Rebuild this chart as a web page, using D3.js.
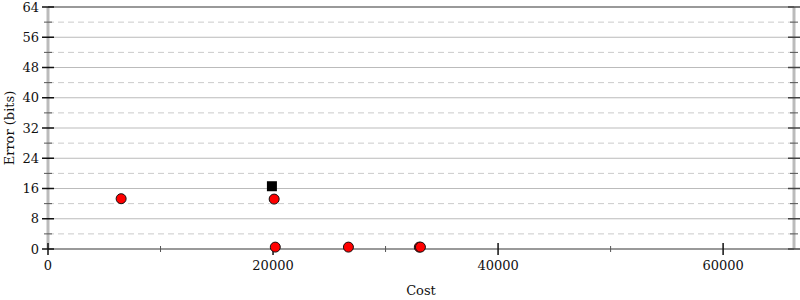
<!DOCTYPE html>
<html>
<head>
<meta charset="utf-8">
<script src="https://d3js.org/d3.v7.min.js"></script>
<style>
  body { margin: 0; background: #fff; }
  text { font-family: "DejaVu Serif", serif; font-size: 13px; fill: #111; }
</style>
</head>
<body>
<div id="chart"></div>
<script>
// Data
const circleCost = [6500, 20100, 20200, 26700, 33000, 33100]
const circleError = [13.3, 13.2, 0.5, 0.5, 0.5, 0.5]
const squareCost = [19900]
const squareError = [16.6]
const xTicks = [0, 20000, 40000, 60000]
const xMinor = [10000, 30000, 50000]
const yTicks = [0, 8, 16, 24, 32, 40, 48, 56, 64]
const yMinor = [4, 12, 20, 28, 36, 44, 52, 60]

const width = 800, height = 300
const margin = { left: 48, right: 6, top: 7, bottom: 51 }
const innerW = width - margin.left - margin.right
const innerH = height - margin.top - margin.bottom

const svg = d3.select("#chart").append("svg")
  .attr("width", width)
  .attr("height", height)

const g = svg.append("g")
  .attr("transform", `translate(${margin.left},${margin.top})`)

// Scales
const x = d3.scaleLinear().domain([0, 66300]).range([0, innerW])
const y = d3.scaleLinear().domain([0, 64]).range([innerH, 0])

// grid
g.selectAll(".gmaj").data(yTicks.slice(1, -1)).join("line")
  .attr("x1", 0).attr("x2", innerW)
  .attr("y1", d => y(d)).attr("y2", d => y(d))
  .attr("stroke", "#bbb").attr("stroke-width", 1)
g.selectAll(".gmin").data(yMinor).join("line")
  .attr("x1", 0).attr("x2", innerW)
  .attr("y1", d => y(d)).attr("y2", d => y(d))
  .attr("stroke", "#cbcbcb").attr("stroke-width", 1)
  .attr("stroke-dasharray", "6,4")

// frame
g.append("line").attr("x1", 0).attr("x2", 0).attr("y1", 0).attr("y2", innerH)
  .attr("stroke", "#bbb").attr("stroke-width", 3)
g.append("line").attr("x1", innerW).attr("x2", innerW).attr("y1", 0).attr("y2", innerH)
  .attr("stroke", "#bbb").attr("stroke-width", 3)
g.append("line").attr("x1", 0).attr("x2", innerW).attr("y1", 0).attr("y2", 0)
  .attr("stroke", "#999").attr("stroke-width", 2)
g.append("line").attr("x1", 0).attr("x2", innerW).attr("y1", innerH).attr("y2", innerH)
  .attr("stroke", "#999").attr("stroke-width", 2)

// y ticks (left and right)
;[0, innerW].forEach((xx, i) => {
  g.selectAll(null).data(yTicks).join("line")
    .attr("x1", xx - 6).attr("x2", xx + 6)
    .attr("y1", d => y(d)).attr("y2", d => y(d))
    .attr("stroke", i ? "#444" : "#111").attr("stroke-width", 1.5)
  g.selectAll(null).data(yMinor).join("line")
    .attr("x1", xx - 4).attr("x2", xx + 4)
    .attr("y1", d => y(d)).attr("y2", d => y(d))
    .attr("stroke", "#555").attr("stroke-width", 1)
})
g.selectAll(".ylab").data(yTicks).join("text")
  .attr("x", -9).attr("y", d => y(d)).attr("dy", "0.35em")
  .attr("text-anchor", "end")
  .text(d => d)

// x ticks
g.selectAll(null).data(xTicks).join("line")
  .attr("x1", d => x(d)).attr("x2", d => x(d))
  .attr("y1", innerH - 6).attr("y2", innerH + 6)
  .attr("stroke", "#111").attr("stroke-width", 1.5)
g.selectAll(null).data(xMinor).join("line")
  .attr("x1", d => x(d)).attr("x2", d => x(d))
  .attr("y1", innerH - 3).attr("y2", innerH + 3)
  .attr("stroke", "#555").attr("stroke-width", 1)
g.selectAll(".xlab").data(xTicks).join("text")
  .attr("x", d => x(d)).attr("y", innerH + 21)
  .attr("text-anchor", "middle")
  .text(d => d)

// axis titles
svg.append("text")
  .attr("x", margin.left + innerW / 2).attr("y", 295)
  .attr("text-anchor", "middle").text("Cost")
svg.append("text")
  .attr("transform", `translate(14,${margin.top + innerH / 2}) rotate(-90)`)
  .attr("text-anchor", "middle").text("Error (bits)")

// points
g.selectAll(".sq").data(squareCost).join("rect")
  .attr("x", (d, i) => x(d) - 5).attr("y", (d, i) => y(squareError[i]) - 5)
  .attr("width", 10).attr("height", 10)
  .attr("fill", "#000")
g.selectAll(".pt").data(circleCost).join("circle")
  .attr("cx", d => x(d)).attr("cy", (d, i) => y(circleError[i]))
  .attr("r", 5)
  .attr("fill", "red").attr("stroke", "#111").attr("stroke-width", 1)
</script>
</body>
</html>
